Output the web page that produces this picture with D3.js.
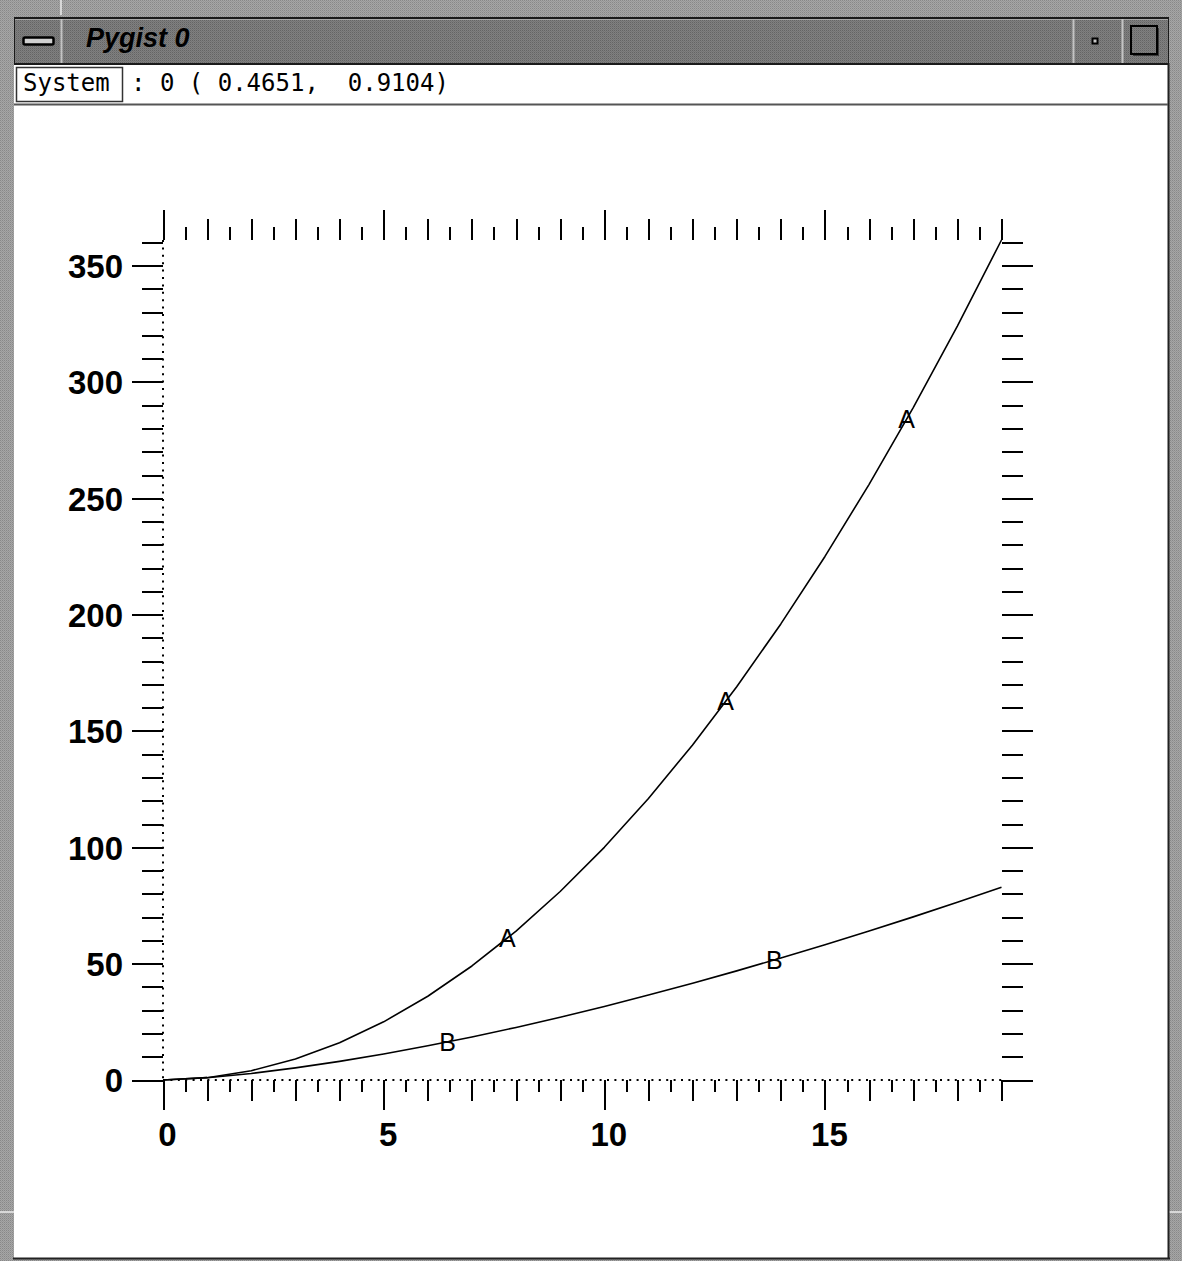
<!DOCTYPE html>
<html>
<head>
<meta charset="utf-8">
<script src="https://cdn.jsdelivr.net/npm/d3@7"></script>
<style>
  html, body { margin: 0; padding: 0; background: #fff; }
  svg { display: block; }
</style>
</head>
<body>
<svg id="win" width="1182" height="1261"></svg>
<script>
// Curve samples
const xValues = [0, 1, 2, 3, 4, 5, 6, 7, 8, 9, 10, 11, 12, 13, 14, 15, 16, 17, 18, 19];
const seriesA = [0, 1, 4, 9, 16, 25, 36, 49, 64, 81, 100, 121, 144, 169, 196, 225, 256, 289, 324, 361];
const seriesB = [0, 1, 2.8, 5.2, 8, 11.2, 14.7, 18.5, 22.6, 27, 31.6, 36.5, 41.6, 46.9, 52.4, 58.1, 64, 70.1, 76.4, 82.8];

// Where the curve letters sit along each line (x positions)
const markerAx = [7.8, 12.75, 16.85];
const markerBx = [6.45, 13.85];

// Axis ticks
const xMajorTicks = [0, 5, 10, 15];
const yMajorTicks = [0, 50, 100, 150, 200, 250, 300, 350];

const titleText = "Pygist 0";
const statusLabel = "System";
const statusText = ": 0 ( 0.4651,  0.9104)";

const svg = d3.select("#win");
const W = 1182, H = 1261;

// ---------- window chrome ----------
const defs = svg.append("defs");
const pBorder = defs.append("pattern").attr("id", "pBorder")
  .attr("width", 2).attr("height", 2).attr("patternUnits", "userSpaceOnUse");
pBorder.append("rect").attr("width", 2).attr("height", 2).attr("fill", "#a6a6a6");
pBorder.append("rect").attr("width", 1).attr("height", 1).attr("fill", "#888888");
pBorder.append("rect").attr("x", 1).attr("y", 1).attr("width", 1).attr("height", 1).attr("fill", "#979797");

const pTitle = defs.append("pattern").attr("id", "pTitle")
  .attr("width", 2).attr("height", 2).attr("patternUnits", "userSpaceOnUse");
pTitle.append("rect").attr("width", 2).attr("height", 2).attr("fill", "#808080");
pTitle.append("rect").attr("width", 1).attr("height", 1).attr("fill", "#646464");
pTitle.append("rect").attr("x", 1).attr("y", 1).attr("width", 1).attr("height", 1).attr("fill", "#747474");

svg.append("rect").attr("width", W).attr("height", H).attr("fill", "url(#pBorder)");
// resize-handle notches in the outer frame
svg.append("line").attr("x1", 61).attr("x2", 61).attr("y1", 0).attr("y2", 15)
  .attr("stroke", "#d8d8d8").attr("stroke-width", 2);
svg.append("line").attr("x1", 1169).attr("x2", 1182).attr("y1", 1212).attr("y2", 1212)
  .attr("stroke", "#d8d8d8").attr("stroke-width", 2);
svg.append("line").attr("x1", 0).attr("x2", 14).attr("y1", 1212).attr("y2", 1212)
  .attr("stroke", "#d8d8d8").attr("stroke-width", 2);

// title bar
svg.append("rect").attr("x", 14).attr("y", 17).attr("width", 1155).attr("height", 48)
  .attr("fill", "#1a1a1a");
svg.append("rect").attr("x", 15).attr("y", 19).attr("width", 1153).attr("height", 44)
  .attr("fill", "url(#pTitle)");
svg.append("line").attr("x1", 15).attr("x2", 1168).attr("y1", 19.5).attr("y2", 19.5)
  .attr("stroke", "#a8a8a8").attr("stroke-width", 1);
[61.5, 1073.5, 1122.5].forEach(x => {
  svg.append("line").attr("x1", x).attr("x2", x).attr("y1", 19).attr("y2", 63)
    .attr("stroke", "#c4c4c4").attr("stroke-width", 2);
});
// window-menu button
svg.append("rect").attr("x", 23.5).attr("y", 37.5).attr("width", 30).attr("height", 7)
  .attr("rx", 1.5).attr("fill", "#d0d0d0").attr("stroke", "#000").attr("stroke-width", 2.5);
// minimise / maximise buttons
svg.append("rect").attr("x", 1092.5).attr("y", 38.5).attr("width", 5).attr("height", 5)
  .attr("fill", "#c8c8c8").attr("stroke", "#000").attr("stroke-width", 2);
svg.append("rect").attr("x", 1133).attr("y", 28).attr("width", 26).attr("height", 28)
  .attr("fill", "#3a3a3a");
svg.append("rect").attr("x", 1131).attr("y", 26).attr("width", 26).attr("height", 28)
  .attr("fill", "url(#pTitle)").attr("stroke", "#000").attr("stroke-width", 2);
svg.append("text").attr("x", 86).attr("y", 47)
  .attr("font-family", "'Liberation Sans', Arial, sans-serif")
  .attr("font-style", "italic").attr("font-weight", "bold")
  .attr("font-size", 27).attr("fill", "#000")
  .text(titleText);

// client area
svg.append("rect").attr("x", 14).attr("y", 65).attr("width", 1154).attr("height", 1193)
  .attr("fill", "#fff");
svg.append("line").attr("x1", 1168.5).attr("x2", 1168.5).attr("y1", 63).attr("y2", 1259)
  .attr("stroke", "#222").attr("stroke-width", 2);
svg.append("line").attr("x1", 13).attr("x2", 1170).attr("y1", 1258.5).attr("y2", 1258.5)
  .attr("stroke", "#222").attr("stroke-width", 2);
svg.append("line").attr("x1", 14).attr("x2", 1168).attr("y1", 104.5).attr("y2", 104.5)
  .attr("stroke", "#555").attr("stroke-width", 2);

// status line
svg.append("rect").attr("x", 16.5).attr("y", 67.5).attr("width", 106).attr("height", 34)
  .attr("fill", "none").attr("stroke", "#333").attr("stroke-width", 1.5);
svg.append("text").attr("x", 23).attr("y", 91)
  .attr("font-family", "'DejaVu Sans Mono', 'Liberation Mono', monospace")
  .attr("font-size", 24).attr("fill", "#000").text(statusLabel);
svg.append("text").attr("x", 131).attr("y", 91)
  .attr("font-family", "'DejaVu Sans Mono', 'Liberation Mono', monospace")
  .attr("font-size", 24).attr("fill", "#000").attr("xml:space", "preserve")
  .style("white-space", "pre").text(statusText);

// ---------- plot ----------
const x = d3.scaleLinear().domain([0, 19]).range([163, 1001.5]);
const y = d3.scaleLinear().domain([0, 361]).range([1080, 240]);

const tickFont = "'Liberation Sans', Arial, Helvetica, sans-serif";

function tickLayer(axis, tx, ty) {
  const g = svg.append("g").attr("transform", `translate(${tx},${ty})`).call(axis);
  g.select(".domain").remove();
  g.selectAll(".tick line").attr("stroke", "#000").attr("stroke-width", 2)
    .attr("shape-rendering", "crispEdges");
  return g;
}

const xMinor = d3.range(0, 19.001, 0.5);
const xMid = d3.range(0, 19.001, 1);
const yMinor = d3.range(0, 361, 10);

// bottom
tickLayer(d3.axisBottom(x).tickValues(xMinor).tickSize(12).tickFormat(""), 0, y(0));
tickLayer(d3.axisBottom(x).tickValues(xMid).tickSize(21).tickFormat(""), 0, y(0));
const xb = tickLayer(d3.axisBottom(x).tickValues(xMajorTicks).tickSize(30).tickPadding(13)
  .tickFormat(d3.format("d")), 0, y(0));
xb.selectAll("text").attr("font-family", tickFont).attr("font-weight", "bold")
  .attr("font-size", 33).attr("fill", "#000").attr("dx", 4);

// top
tickLayer(d3.axisTop(x).tickValues(xMinor).tickSize(13).tickFormat(""), 0, y(361));
tickLayer(d3.axisTop(x).tickValues(xMid).tickSize(21).tickFormat(""), 0, y(361));
tickLayer(d3.axisTop(x).tickValues(xMajorTicks).tickSize(30).tickFormat(""), 0, y(361));

// left
tickLayer(d3.axisLeft(y).tickValues(yMinor).tickSize(21).tickFormat(""), x(0), 0);
const yl = tickLayer(d3.axisLeft(y).tickValues(yMajorTicks).tickSize(31).tickPadding(9)
  .tickFormat(d3.format("d")), x(0), 0);
yl.selectAll("text").attr("font-family", tickFont).attr("font-weight", "bold")
  .attr("font-size", 33).attr("fill", "#000").attr("dy", "0.36em");

// right
tickLayer(d3.axisRight(y).tickValues(yMinor).tickSize(21).tickFormat(""), x(19), 0);
tickLayer(d3.axisRight(y).tickValues(yMajorTicks).tickSize(31).tickFormat(""), x(19), 0);

// dotted zero lines
svg.append("line").attr("x1", x(0)).attr("x2", x(0)).attr("y1", y(361)).attr("y2", y(0))
  .attr("stroke", "#000").attr("stroke-width", 2).attr("stroke-dasharray", "2,5.4");
svg.append("line").attr("x1", x(0)).attr("x2", x(19)).attr("y1", y(0)).attr("y2", y(0))
  .attr("stroke", "#000").attr("stroke-width", 2).attr("stroke-dasharray", "2,5.4");

// curves
const line = d3.line().x(d => x(d[0])).y(d => y(d[1]));
[seriesA, seriesB].forEach(s => {
  svg.append("path").datum(xValues.map((xv, i) => [xv, s[i]]))
    .attr("d", line).attr("fill", "none").attr("stroke", "#000")
    .attr("stroke-width", 1.6).attr("stroke-linejoin", "round");
});

// curve letters placed on the lines
function onCurve(s, xv) {
  const i = Math.min(Math.floor(xv), xValues.length - 2);
  const t = (xv - xValues[i]) / (xValues[i + 1] - xValues[i]);
  return s[i] + t * (s[i + 1] - s[i]);
}
function drawMarkers(s, xs, letter) {
  svg.append("g").selectAll("text").data(xs).join("text")
    .attr("x", d => x(d)).attr("y", d => y(onCurve(s, d)))
    .attr("text-anchor", "middle").attr("dy", "0.36em")
    .attr("font-family", tickFont).attr("font-size", 25).attr("fill", "#000")
    .text(letter);
}
drawMarkers(seriesA, markerAx, "A");
drawMarkers(seriesB, markerBx, "B");
</script>
</body>
</html>
